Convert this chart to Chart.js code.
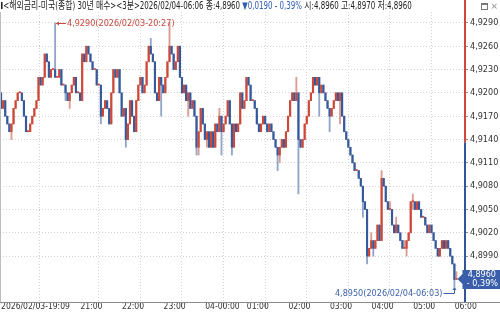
<!DOCTYPE html>
<html>
<head>
<meta charset="utf-8">
<script src="https://cdn.jsdelivr.net/npm/chart.js@4.4.1/dist/chart.umd.min.js"></script>
<style>
	html, body { margin: 0; padding: 0; background: #fff; }
	#wrap { position: relative; width: 500px; height: 314px; overflow: hidden; }
	#chart { position: absolute; left: 0; top: 0; }
	#title {
		position: absolute; left: 1px; top: 0; white-space: nowrap;
		font: 10px 'DejaVu Sans Condensed', 'Noto Sans CJK KR', sans-serif;
		line-height: 11px; color: #222; transform-origin: 0 0;
	}
	#title .dn { color: #2d5cb5; }
	#title .mark { display: inline-block; width: 2px; height: 7px; background: #222; margin-right: 1px; }
	#icons { position: absolute; right: 2px; top: 1px; font: 9px 'DejaVu Sans', sans-serif; color: #888; }
	#icons .box { display: inline-block; width: 5px; height: 4px; border: 1px solid #777; border-top-width: 2px; vertical-align: middle; margin-right: 2px; }
</style>
</head>
<body>
<div id="wrap">
	<canvas id="chart" width="500" height="314"></canvas>
	<div id="title"></div>
	<div id="icons"><span class="box"></span>×</div>
</div>
<script>
// ---- data (3-minute bars, 2026/02/03 19:09 .. 2026/02/04 06:06)
const startTime = new Date( 2026, 1, 3, 19, 9 );
const firstOpen = 4.920;
const prevClose = 4.915;
const axisSplit = 4.9136;

const closes = [
	4.918, 4.919, 4.917, 4.916, 4.915, 4.916, 4.918, 4.919, 4.920, 4.920,
	4.919, 4.917, 4.915, 4.915, 4.916, 4.917, 4.918, 4.919, 4.922, 4.921,
	4.922, 4.925, 4.924, 4.922, 4.923, 4.923, 4.922, 4.922, 4.923, 4.921,
	4.921, 4.920, 4.919, 4.920, 4.921, 4.922, 4.920, 4.920, 4.919, 4.925,
	4.924, 4.926, 4.925, 4.924, 4.923, 4.923, 4.921, 4.921, 4.917, 4.918,
	4.919, 4.918, 4.916, 4.920, 4.923, 4.922, 4.923, 4.920, 4.917, 4.918,
	4.914, 4.916, 4.919, 4.917, 4.915, 4.919, 4.921, 4.922, 4.920, 4.921,
	4.924, 4.926, 4.925, 4.924, 4.920, 4.919, 4.922, 4.921, 4.920, 4.922,
	4.924, 4.926, 4.925, 4.923, 4.924, 4.926, 4.922, 4.920, 4.921, 4.919,
	4.920, 4.918, 4.919, 4.917, 4.913, 4.915, 4.918, 4.916, 4.914, 4.915,
	4.913, 4.915, 4.913, 4.916, 4.915, 4.917, 4.915, 4.916, 4.917, 4.919,
	4.916, 4.913, 4.916, 4.915, 4.916, 4.920, 4.918, 4.919, 4.922, 4.921,
	4.919, 4.919, 4.918, 4.916, 4.915, 4.916, 4.917, 4.916, 4.915, 4.916,
	4.915, 4.914, 4.913, 4.912, 4.913, 4.914, 4.913, 4.915, 4.917, 4.919,
	4.920, 4.919, 4.920, 4.914, 4.913, 4.914, 4.916, 4.917, 4.919, 4.920,
	4.922, 4.921, 4.922, 4.920, 4.921, 4.920, 4.919, 4.918, 4.917, 4.918,
	4.919, 4.920, 4.919, 4.920, 4.917, 4.915, 4.914, 4.913, 4.912, 4.911,
	4.910, 4.910, 4.909, 4.908, 4.906, 4.905, 4.899, 4.900, 4.901, 4.900,
	4.901, 4.903, 4.901, 4.909, 4.908, 4.906, 4.905, 4.905, 4.903, 4.902,
	4.903, 4.902, 4.901, 4.900, 4.900, 4.901, 4.902, 4.906, 4.906, 4.905,
	4.906, 4.905, 4.904, 4.904, 4.903, 4.902, 4.903, 4.902, 4.901, 4.900,
	4.899, 4.900, 4.901, 4.900, 4.901, 4.900, 4.899, 4.898, 4.896, 4.896
];

// wicks that reach beyond the body: [bar, price]
const highMarks = [
	[ 26, 4.929 ], [ 72, 4.927 ], [ 81, 4.929 ], [ 105, 4.918 ], [ 142, 4.922 ],
	[ 178, 4.902 ], [ 183, 4.910 ], [ 187, 4.906 ], [ 190, 4.904 ], [ 194, 4.901 ],
	[ 198, 4.907 ], [ 219, 4.897 ]
];
const lowMarks = [
	[ 5, 4.914 ], [ 31, 4.919 ], [ 33, 4.918 ], [ 48, 4.916 ], [ 60, 4.913 ],
	[ 77, 4.917 ], [ 90, 4.917 ], [ 94, 4.912 ], [ 95, 4.912 ], [ 99, 4.913 ],
	[ 106, 4.912 ], [ 111, 4.912 ], [ 133, 4.910 ], [ 134, 4.911 ], [ 143, 4.907 ],
	[ 153, 4.917 ], [ 158, 4.915 ], [ 163, 4.916 ], [ 174, 4.904 ], [ 176, 4.898 ],
	[ 179, 4.899 ], [ 195, 4.899 ], [ 198, 4.905 ], [ 218, 4.895 ]
];

const timeTicks = [ 0, 37, 57, 77, 97, 117, 137, 157, 177, 197, 217 ];
const timeLabels = [ '2026/02/03-19:09', '21:00', '22:00', '23:00', '04-00:00',
	'01:00', '02:00', '03:00', '04:00', '05:00', '06:00' ];
const priceTicks = [ 4.899, 4.902, 4.905, 4.908, 4.911, 4.914, 4.917, 4.920, 4.923, 4.926, 4.929 ];

// ---- derived OHLC
const opens = closes.map( ( c, i ) => i === 0 ? firstOpen : closes[ i - 1 ] );
const highs = closes.map( ( c, i ) => Math.max( c, opens[ i ] ) );
const lows = closes.map( ( c, i ) => Math.min( c, opens[ i ] ) );
highMarks.forEach( ( [ i, v ] ) => { highs[ i ] = v; } );
lowMarks.forEach( ( [ i, v ] ) => { lows[ i ] = v; } );

const UP = '#cd4838', DOWN = '#36599c';
const UP_W = '#dd9a91', DOWN_W = '#93a5c9';
const FONT = "'DejaVu Sans Condensed', 'Liberation Sans Narrow', sans-serif";

const fmt = ( v ) => v.toFixed( 4 ).replace( '.', ',' );
const pad = ( n ) => String( n ).padStart( 2, '0' );
function barTime( i ) {
	const d = new Date( startTime.getTime() + i * 3 * 60000 );
	return d.getFullYear() + '/' + pad( d.getMonth() + 1 ) + '/' + pad( d.getDate() ) +
		'-' + pad( d.getHours() ) + ':' + pad( d.getMinutes() );
}

const isUp = closes.map( ( c, i ) => c >= opens[ i ] );

const bodyData = closes.map( ( c, i ) => ( { x: i, y: [ opens[ i ], c ] } ) );
const wickData = closes.map( ( c, i ) => ( { x: i, y: [ lows[ i ], highs[ i ] ] } ) );

// ---- title
const last = closes.length - 1;
const change = closes[ last ] - prevClose;
const pct = change / prevClose * 100;
const title = document.getElementById( 'title' );
title.innerHTML = '<span class="mark"></span>&lt;해외금리-미국(종합) 30년 매수&gt;&lt;3분&gt;' +
	barTime( last ) +
	' 종:' + fmt( closes[ last ] ) + ' <span class="dn">' + ( change < 0 ? '▼' : '▲' ) +
	fmt( Math.abs( change ) ) + ' - ' + Math.abs( pct ).toFixed( 2 ).replace( '.', ',' ) + '%</span>' +
	' 시:' + fmt( opens[ last ] ) + ' 고:' + fmt( highs[ last ] ) + ' 저:' + fmt( lows[ last ] );
title.style.transform = 'scaleX(' + ( 411 / title.scrollWidth ) + ')';

// ---- extra drawing: axis line, extremes, current price tag
const decor = {
	id: 'decor',
	afterDraw( chart ) {
		const { ctx, chartArea: a, scales: { x, y } } = chart;
		ctx.save();

		ctx.strokeStyle = '#bdbdbd';
		ctx.lineWidth = 1;
		ctx.beginPath();
		ctx.moveTo( a.left + 0.5, a.top );
		ctx.lineTo( a.left + 0.5, a.bottom );
		ctx.stroke();

		ctx.strokeStyle = '#8a8a8a';
		ctx.beginPath();
		ctx.moveTo( 0, a.bottom + 0.5 );
		ctx.lineTo( chart.width, a.bottom + 0.5 );
		ctx.stroke();

		const split = y.getPixelForValue( axisSplit );
		ctx.lineWidth = 2;
		ctx.strokeStyle = '#d0473a';
		ctx.beginPath();
		ctx.moveTo( a.right, 0 );
		ctx.lineTo( a.right, split );
		ctx.stroke();
		ctx.strokeStyle = '#2f559a';
		ctx.beginPath();
		ctx.moveTo( a.right, split );
		ctx.lineTo( a.right, a.bottom );
		ctx.stroke();

		ctx.font = '9px ' + FONT;
		ctx.textBaseline = 'middle';
		ctx.lineWidth = 1;

		// highest
		let hi = 0;
		highs.forEach( ( v, i ) => { if ( v > highs[ hi ] ) { hi = i; } } );
		const hx = Math.round( x.getPixelForValue( hi ) ) + 1;
		const hy = Math.round( y.getPixelForValue( highs[ hi ] ) ) + 0.5;
		ctx.strokeStyle = ctx.fillStyle = '#c9483a';
		ctx.beginPath();
		ctx.moveTo( hx, hy );
		ctx.lineTo( hx + 10, hy );
		ctx.stroke();
		ctx.beginPath();
		ctx.moveTo( hx, hy );
		ctx.lineTo( hx + 3, hy - 2 );
		ctx.lineTo( hx + 3, hy + 2 );
		ctx.fill();
		ctx.textAlign = 'left';
		ctx.fillText( fmt( highs[ hi ] ) + '(' + barTime( hi ) + ')', hx + 11, hy );

		// lowest
		let lo = 0;
		lows.forEach( ( v, i ) => { if ( v < lows[ lo ] ) { lo = i; } } );
		const lx = Math.round( x.getPixelForValue( lo ) ) + 0.5;
		const ly = Math.round( y.getPixelForValue( lows[ lo ] ) );
		const lyText = ly + 6.5;
		ctx.strokeStyle = ctx.fillStyle = '#3d63ab';
		ctx.beginPath();
		ctx.moveTo( lx, ly + 1 );
		ctx.lineTo( lx, lyText );
		ctx.lineTo( lx - 11, lyText );
		ctx.stroke();
		ctx.beginPath();
		ctx.moveTo( lx, ly );
		ctx.lineTo( lx - 2, ly + 3 );
		ctx.lineTo( lx + 2, ly + 3 );
		ctx.fill();
		ctx.textAlign = 'right';
		ctx.fillText( fmt( lows[ lo ] ) + '(' + barTime( lo ) + ')', lx - 12, lyText );

		// current price tag
		const cy = Math.round( y.getPixelForValue( closes[ last ] ) );
		const left = x.getPixelForValue( last ) + 1;
		ctx.fillStyle = '#3a5ea9';
		ctx.beginPath();
		ctx.moveTo( left, cy );
		ctx.lineTo( left + 5, cy - 5 );
		ctx.lineTo( left + 5, cy - 9 );
		ctx.lineTo( chart.width, cy - 9 );
		ctx.lineTo( chart.width, cy + 10 );
		ctx.lineTo( left + 5, cy + 10 );
		ctx.lineTo( left + 5, cy + 5 );
		ctx.closePath();
		ctx.fill();
		ctx.fillStyle = '#fff';
		ctx.textAlign = 'right';
		ctx.fillText( fmt( closes[ last ] ), chart.width - 4, cy - 4 );
		ctx.fillText( '- ' + Math.abs( pct ).toFixed( 2 ).replace( '.', ',' ) + '%', chart.width - 2, cy + 5 );

		ctx.restore();
	}
};

new Chart( document.getElementById( 'chart' ), {
	type: 'bar',
	data: {
		datasets: [
			{
				data: bodyData,
				backgroundColor: closes.map( ( c, i ) => isUp[ i ] ? UP : DOWN ),
				barThickness: 1.5,
				minBarLength: 1,
				grouped: false,
				order: 1
			},
			{
				data: wickData,
				backgroundColor: closes.map( ( c, i ) => isUp[ i ] ? UP_W : DOWN_W ),
				barThickness: 1.2,
				minBarLength: 1,
				grouped: false,
				order: 2
			}
		]
	},
	options: {
		animation: false,
		responsive: false,
		layout: { padding: { top: 12, left: 0, right: 0, bottom: 0 } },
		plugins: { legend: { display: false }, tooltip: { enabled: false } },
		scales: {
			x: {
				type: 'linear',
				min: -0.51,
				max: 223.1,
				offset: false,
				afterBuildTicks: ( s ) => { s.ticks = timeTicks.map( ( v ) => ( { value: v } ) ); },
				afterFit: ( s ) => { s.height = 12; },
				grid: { color: '#d2d2d2', tickLength: 5, tickColor: '#8a8a8a', tickBorderDash: [] },
				border: { display: false, dash: [ 1, 2 ] },
				ticks: {
					autoSkip: false,
					maxRotation: 0,
					align: 'start',
					padding: -5,
					color: '#333',
					font: { family: FONT, size: 8.5 },
					callback: ( v, i ) => ( i === 0 ? '' : ' ' ) + timeLabels[ i ]
				}
			},
			y: {
				position: 'right',
				min: 4.8931,
				max: 4.9304,
				afterBuildTicks: ( s ) => { s.ticks = priceTicks.map( ( v ) => ( { value: v } ) ); },
				afterFit: ( s ) => { s.width = 35; },
				grid: { color: '#d2d2d2', tickLength: 3, tickColor: '#8a8a8a', tickBorderDash: [] },
				border: { display: false, dash: [ 1, 2 ] },
				ticks: {
					padding: 2,
					color: '#333',
					font: { family: FONT, size: 9 },
					callback: ( v ) => fmt( v )
				}
			}
		}
	},
	plugins: [ decor ]
} );
</script>
</body>
</html>
